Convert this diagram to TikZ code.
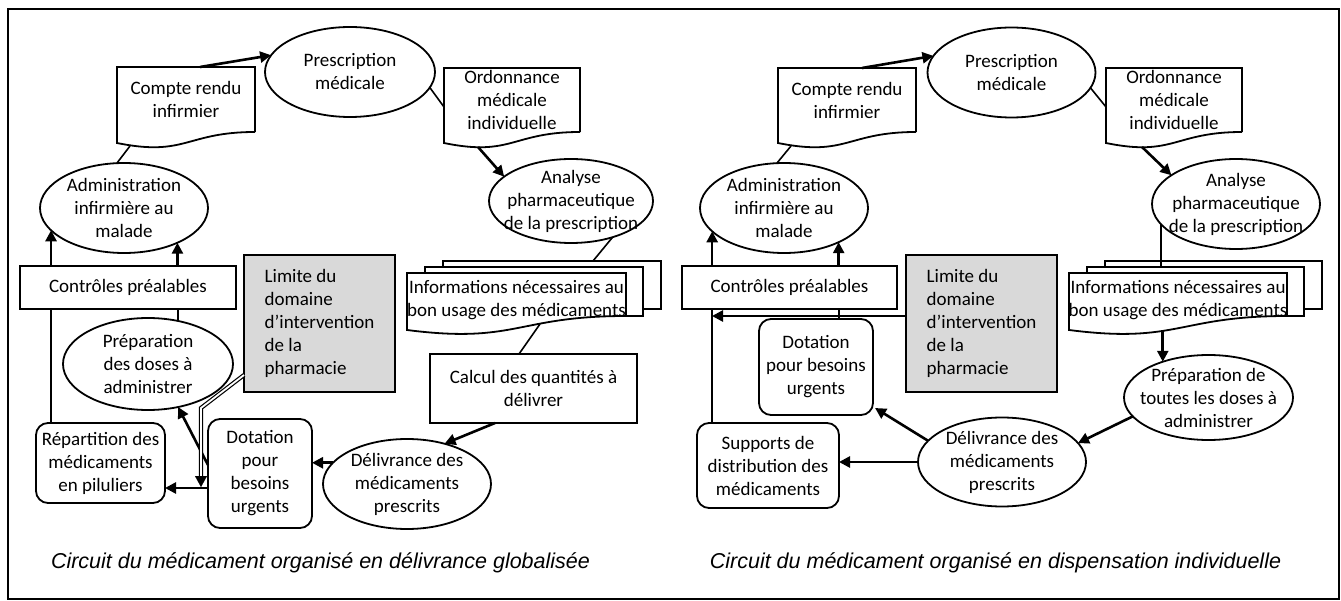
\documentclass[tikz,border=0pt]{standalone}
\usepackage{fontspec}
\setmainfont{Carlito}
\newfontfamily\capfont{Liberation Sans}
\usetikzlibrary{calc,arrows.meta,shapes.geometric}
\definecolor{limgray}{RGB}{217,217,217}
\newcommand\docoutline[1]{%
  \draw[sl] (#1.south east) -- (#1.north east) -- (#1.north west) -- ($(#1.south west)+(0,11)$)
    .. controls ($(#1.south)+(0,25)$) and (#1.south) .. (#1.south east);}
\newcommand\multidoc[1]{%
  \draw[sl] ($(#1.north west)+(36,-6)$) -- ($(#1.north west)+(36,-12)$) -- ($(#1.north east)+(35,-12)$)
    -- ($(#1.south east)+(35,-19)$) -- ($(#1.south east)+(17,-19)$);
  \draw[sl] ($(#1.north west)+(18,0)$) -- ($(#1.north west)+(18,-6)$) -- ($(#1.north east)+(17,-6)$)
    -- ($(#1.south east)+(17,-12)$) -- ($(#1.south east)+(0,-12)$);
  \draw[sl] ($(#1.south east)+(0,-12)$) -- (#1.north east) -- (#1.north west) -- ($(#1.south west)+(0,2)$)
    .. controls ($(#1.south)+(0,16)$) and ($(#1.south)+(0,-12)$) .. ($(#1.south east)+(0,-12)$);}
\begin{document}
\begin{tikzpicture}[x=1pt,y=-1pt,
  every node/.style={font=\fontsize{19}{23}\selectfont},
  sl/.style={line width=1.8pt},
  sz/.style 2 args={minimum width=#1, minimum height=#2},
  box/.style={draw, sl, rectangle, inner sep=-30pt, outer sep=0pt, align=center},
  rbox/.style={box, rounded corners=12pt},
  ell/.style={draw, sl, ellipse, inner sep=-40pt, outer sep=0pt, align=center},
  doc/.style={rectangle, inner sep=-30pt, outer sep=0pt, align=center},
  lim/.style={box, fill=limgray, align=left},
  cn/.style={line width=1.6pt},
  ar/.style={line width=2.6pt, -{Triangle[length=11pt,width=11pt]}},
  band/.style={line width=1.2pt, double, double distance=1.8pt},
  captext/.style={font=\capfont\itshape\fontsize{21.5}{25}\selectfont}]
\useasboundingbox (0,0) rectangle (1341,601);
\draw[line width=1.6pt] (8,9) rectangle (1339,599);

% ---------- left diagram ----------
\node[doc, sz={138}{65}] (cr1) at (186,99.5) {Compte rendu\\infirmier};
\node[ell, sz={170}{90}] (pm1) at (350,72) {Prescription\\médicale};
\node[doc, sz={136}{64}] (om1) at (512,100) {Ordonnance\\médicale\\individuelle};
\node[ell, sz={164}{84}] (ap1) at (571,201) {Analyse\\pharmaceutique\\de la prescription};
\node[doc, sz={219}{55}] (info1) at (516.5,300.5) {Informations nécessaires au\\bon usage des médicaments};
\node[box, sz={207}{69}] (cq1) at (533.5,388.5) {Calcul des quantités à\\délivrer};
\node[ell, sz={168}{90}] (dl1) at (407,484) {Délivrance des\\médicaments\\prescrits};
\node[rbox, sz={104}{109}] (dot1) at (260,473.5) {Dotation\\pour\\besoins\\urgents};
\node[rbox, sz={129}{80}] (rep1) at (100.5,463) {Répartition des\\médicaments\\en piluliers};
\node[ell, sz={170}{92}] (prep1) at (148,364) {Préparation\\des doses à\\administrer};
\node[box, sz={216}{43}] (ctrl1) at (128,287.5) {Contrôles préalables};
\node[ell, sz={168}{90}] (adm1) at (124,208) {Administration\\infirmière au\\malade};
\node[lim, sz={151}{137}] (lim1) at (319.5,323.5) {Limite du\\domaine\\d’intervention\\de la\\pharmacie};
\docoutline{cr1}
\docoutline{om1}
\multidoc{info1}

\draw[ar] ($(cr1.north)+(14,0)$) -- (pm1.168);
\draw[cn] (pm1.-11) -- ($(om1.west)+(0,7)$);
\draw[ar] ($(om1.south)+(-34,15)$) -- (ap1.160);
\draw[cn] (ap1.-41) -- ($(info1.north)+(76.5,-12)$);
\draw[cn] ($(info1.south)+(23.5,-4)$) -- ($(cq1.north)+(-14.5,0)$);
\draw[ar] ($(cq1.south)+(-38.5,0)$) -- (dl1.47);
\draw[ar] (dl1.164) -- (dl1.164 -| dot1.east);
\coordinate (d1a) at ($(dot1.west)+(0,14.5)$);
\draw[ar] (d1a) -- (d1a -| rep1.east);
\draw[ar] ($(dot1.west)+(0,-8.5)$) -- (prep1.-55);
\coordinate (r1t) at ($(rep1.north west)+(15,0)$);
\draw[cn] (r1t) -- (r1t |- ctrl1.south);
\draw[cn] (prep1.55) -- (prep1.55 |- ctrl1.south);
\draw[ar] (adm1.-163 |- ctrl1.north) -- (adm1.-163);
\draw[ar] (adm1.-33 |- ctrl1.north) -- (adm1.-33);
\draw[cn] (adm1.99) -- ($(cr1.south west)+(13,14)$);
\coordinate (lb1) at (201,408);
\coordinate (lt1) at ($(lb1 |- d1a)+(0,-1)$);
\draw[band] ($(lim1.south west)+(0,-17)$) -- (lb1) -- ($(lt1)+(0,-10)$);
\draw[line width=0.1pt, -{Triangle[length=11pt,width=12pt]}] ($(lt1)+(0,-11)$) -- (lt1);

% ---------- right diagram ----------
\node[doc, sz={138}{64}] (cr2) at (847,100) {Compte rendu\\infirmier};
\node[ell, sz={168}{90}] (pm2) at (1011.5,72.5) {Prescription\\médicale};
\node[doc, sz={136}{64}] (om2) at (1174,100) {Ordonnance\\médicale\\individuelle};
\node[ell, sz={168}{90}] (ap2) at (1236,204) {Analyse\\pharmaceutique\\de la prescription};
\node[doc, sz={218}{55}] (info2) at (1178,300.5) {Informations nécessaires au\\bon usage des médicaments};
\node[ell, sz={169}{85}] (prep2) at (1208.5,397.5) {Préparation de\\toutes les doses à\\administrer};
\node[ell, sz={168}{89}] (dl2) at (1002,462) {Délivrance des\\médicaments\\prescrits};
\node[rbox, sz={114}{96}] (dot2) at (816,367) {Dotation\\pour besoins\\urgents};
\node[rbox, sz={142}{85}] (sup2) at (768,465.5) {Supports de\\distribution des\\médicaments};
\node[box, sz={215}{43}] (ctrl2) at (789.5,287.5) {Contrôles préalables};
\node[ell, sz={168}{90}] (adm2) at (784,208) {Administration\\infirmière au\\malade};
\node[lim, sz={151}{137}] (lim2) at (981.5,323.5) {Limite du\\domaine\\d’intervention\\de la\\pharmacie};
\docoutline{cr2}
\docoutline{om2}
\multidoc{info2}

\draw[ar] ($(cr2.north)+(15,0)$) -- (pm2.168);
\draw[cn] (pm2.-11) -- ($(om2.west)+(0,7)$);
\draw[ar] ($(om2.south)+(-32,15)$) -- (ap2.156);
\coordinate (i2t) at ($(info2.north)+(0,-6)$);
\draw[cn] (ap2.-165) -- (ap2.-165 |- i2t);
\coordinate (i2b) at ($(info2.south)+(0,3)$);
\draw[ar] (prep2.142 |- i2b) -- (prep2.142);
\draw[ar] (prep2.-166) -- (dl2.14);
\draw[ar] (dl2.west) -- (dl2.west -| sup2.east);
\draw[ar] (dl2.164) -- ($(dot2.south east)+(2,-7)$);
\draw[ar] (adm2.-162 |- ctrl2.north) -- (adm2.-162);
\draw[ar] (adm2.-32 |- ctrl2.north) -- (adm2.-32);
\coordinate (s2t) at ($(sup2.north west)+(15,0)$);
\draw[cn] (s2t) -- (s2t |- ctrl2.south);
\coordinate (d2t) at ($(dot2.north west)+(80,0)$);
\draw[cn] (d2t) -- (d2t |- ctrl2.south);
\coordinate (l2a) at ($(lim2.south west)+(0,-76)$);
\draw[ar] (l2a) -- (l2a -| s2t);
\draw[cn] (adm2.99) -- ($(cr2.south west)+(13,14)$);

% ---------- captions ----------
\node[captext] (cap1) at (320.5,563) {Circuit du médicament organisé en délivrance globalisée};
\node[captext] (cap2) at (995.5,563) {Circuit du médicament organisé en dispensation individuelle};
\end{tikzpicture}
\end{document}
